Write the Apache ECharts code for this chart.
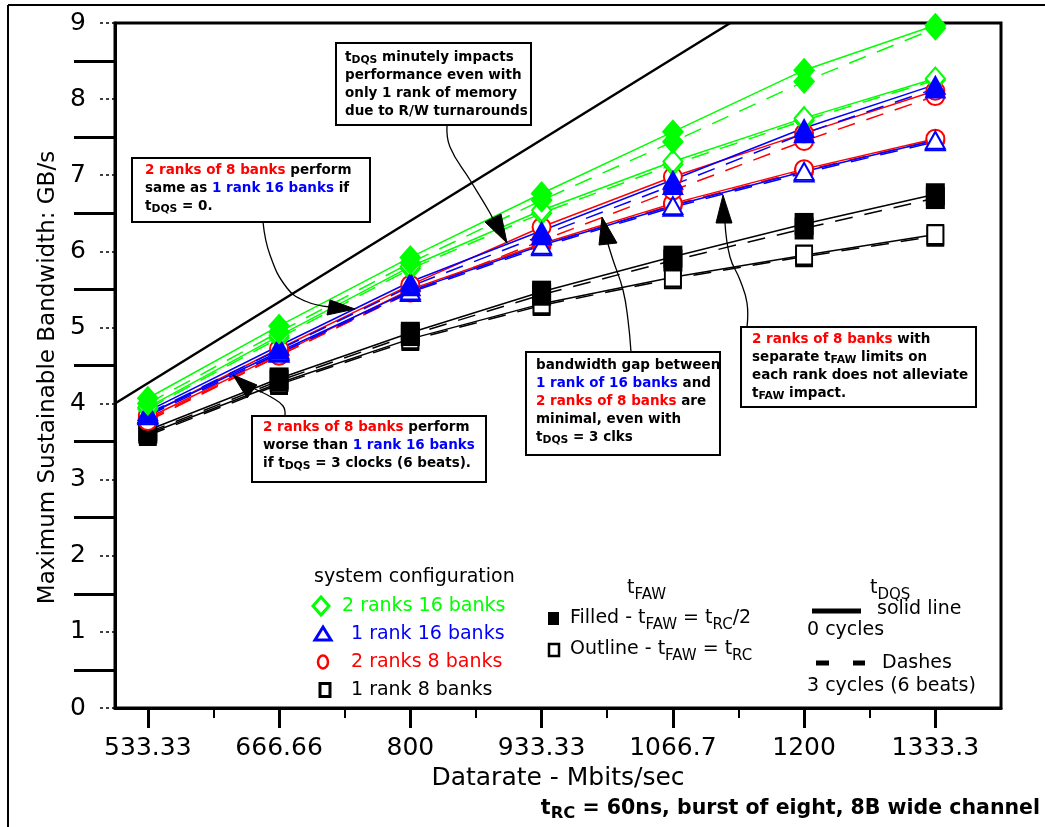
<!DOCTYPE html>
<html>
<head>
<meta charset="utf-8">
<script src="https://cdn.jsdelivr.net/npm/echarts@6/dist/echarts.min.js"></script>
<style>
  html, body { margin: 0; padding: 0; background: #fff; }
  #chart { width: 1045px; height: 827px; }
</style>
</head>
<body>
<div id="chart"></div>
<script>
// Datarate categories (Mbits/sec) and their printed tick labels
const datarates = [533.33, 666.66, 800, 933.33, 1066.7, 1200, 1333.3];
const tickLabels = ['533.33', '666.66', '800', '933.33', '1066.7', '1200', '1333.3'];
const minorTickRates = [600, 733.33, 866.67, 1000, 1133.33, 1266.67];

// Theoretical peak of an 8-byte channel: 8 B x datarate
const peakRates = [500, 1125];
const peakBandwidth = [4, 9];

// 2 ranks 16 banks (green diamonds)
const r2b16FilledSolid  = [4.07, 5.02, 5.92, 6.76, 7.57, 8.38, 8.97];
const r2b16FilledDashed = [4.00, 4.94, 5.85, 6.67, 7.44, 8.23, 8.93];
const r2b16OpenSolid    = [3.95, 4.89, 5.80, 6.54, 7.18, 7.75, 8.27];
const r2b16OpenDashed   = [3.93, 4.86, 5.77, 6.50, 7.14, 7.72, 8.25];

// 1 rank 16 banks (blue triangles)
const r1b16FilledSolid  = [3.90, 4.76, 5.60, 6.27, 6.94, 7.62, 8.19];
const r1b16FilledDashed = [3.87, 4.71, 5.54, 6.21, 6.87, 7.55, 8.14];
const r1b16OpenSolid    = [3.86, 4.68, 5.48, 6.08, 6.60, 7.05, 7.46];
const r1b16OpenDashed   = [3.84, 4.66, 5.46, 6.06, 6.58, 7.03, 7.44];

// 2 ranks 8 banks (red circles)
const r2b8FilledSolid   = [3.85, 4.72, 5.56, 6.32, 6.98, 7.55, 8.11];
const r2b8FilledDashed  = [3.77, 4.63, 5.46, 6.14, 6.80, 7.45, 8.04];
const r2b8OpenSolid     = [3.81, 4.65, 5.50, 6.10, 6.63, 7.08, 7.48];
const r2b8OpenDashed    = [3.79, 4.63, 5.48, 6.08, 6.61, 7.06, 7.46];

// 1 rank 8 banks (black squares)
const r1b8FilledSolid   = [3.65, 4.33, 4.93, 5.47, 5.93, 6.36, 6.75];
const r1b8FilledDashed  = [3.62, 4.30, 4.90, 5.43, 5.88, 6.30, 6.70];
const r1b8OpenSolid     = [3.60, 4.27, 4.85, 5.31, 5.66, 5.95, 6.22];
const r1b8OpenDashed    = [3.58, 4.25, 4.83, 5.29, 5.64, 5.93, 6.20];

const GREEN = '#00ff00', BLUE = '#0000ff', RED = '#ff0000', BLACK = '#000000';
const FONT = 'DejaVu Sans';

const filledSize = { diamond: [22, 25], triangle: [22, 20], circle: [19, 19], rect: [19, 22] };
const emptySize  = { diamond: [19, 22], triangle: [19, 17], circle: [18, 18], rect: [16, 19] };

function configSeries(name, values, color, symbol, filled, dashed) {
  return {
    type: 'line',
    name: name,
    data: datarates.map((x, i) => [x, values[i]]),
    symbol: filled ? symbol : 'empty' + symbol[0].toUpperCase() + symbol.slice(1),
    symbolSize: filled ? filledSize[symbol] : emptySize[symbol],
    showSymbol: true,
    lineStyle: { color: color, width: 1.5, type: dashed ? [18, 12] : 'solid' },
    itemStyle: { color: color, borderColor: color, borderWidth: filled ? 0 : 3 },
    emphasis: { disabled: true },
    silent: true
  };
}

const series = [
  {
    type: 'line', name: 'peak',
    data: peakRates.map((x, i) => [x, peakBandwidth[i]]),
    symbol: 'none',
    lineStyle: { color: BLACK, width: 2.5 },
    silent: true
  },
  configSeries('1 rank 8 banks, outline, dashes', r1b8OpenDashed, BLACK, 'rect', false, true),
  configSeries('1 rank 8 banks, outline, solid', r1b8OpenSolid, BLACK, 'rect', false, false),
  configSeries('1 rank 8 banks, filled, dashes', r1b8FilledDashed, BLACK, 'rect', true, true),
  configSeries('1 rank 8 banks, filled, solid', r1b8FilledSolid, BLACK, 'rect', true, false),
  configSeries('2 ranks 8 banks, outline, dashes', r2b8OpenDashed, RED, 'circle', false, true),
  configSeries('2 ranks 8 banks, outline, solid', r2b8OpenSolid, RED, 'circle', false, false),
  configSeries('2 ranks 8 banks, filled, dashes', r2b8FilledDashed, RED, 'circle', false, true),
  configSeries('2 ranks 8 banks, filled, solid', r2b8FilledSolid, RED, 'circle', false, false),
  configSeries('2 ranks 16 banks, outline, dashes', r2b16OpenDashed, GREEN, 'diamond', false, true),
  configSeries('2 ranks 16 banks, outline, solid', r2b16OpenSolid, GREEN, 'diamond', false, false),
  configSeries('1 rank 16 banks, outline, dashes', r1b16OpenDashed, BLUE, 'triangle', false, true),
  configSeries('1 rank 16 banks, outline, solid', r1b16OpenSolid, BLUE, 'triangle', false, false),
  configSeries('1 rank 16 banks, filled, dashes', r1b16FilledDashed, BLUE, 'triangle', true, true),
  configSeries('1 rank 16 banks, filled, solid', r1b16FilledSolid, BLUE, 'triangle', true, false),
  configSeries('2 ranks 16 banks, filled, dashes', r2b16FilledDashed, GREEN, 'diamond', true, true),
  configSeries('2 ranks 16 banks, filled, solid', r2b16FilledSolid, GREEN, 'diamond', true, false)
];

// ---- rich-text helpers for the call-out boxes and the key ----
function richString(lines) {
  return lines.map(l => l.map(([k, t]) => '{' + k + '|' + t + '}').join('')).join('\n');
}
function boxRich(size, lh) {
  const base = { fontFamily: FONT, fontWeight: 'bold', fontSize: size, lineHeight: lh };
  return {
    k: Object.assign({}, base, { fill: BLACK, color: BLACK }),
    r: Object.assign({}, base, { fill: RED, color: RED }),
    b: Object.assign({}, base, { fill: BLUE, color: BLUE }),
    s: { fontFamily: FONT, fontWeight: 'bold', fontSize: size * 0.8, lineHeight: lh,
         height: lh * 0.66, verticalAlign: 'bottom', fill: BLACK, color: BLACK }
  };
}
function keyRich(color) {
  return {
    n: { fontFamily: FONT, fontSize: 19, lineHeight: 24, fill: color, color: color },
    s: { fontFamily: FONT, fontSize: 15, lineHeight: 24, height: 10, verticalAlign: 'bottom', fill: color, color: color }
  };
}

const calloutRich = boxRich(13.5, 18);

function callout(rect, textPos, lines) {
  return [
    { type: 'rect', shape: { x: rect[0], y: rect[1], width: rect[2] - rect[0], height: rect[3] - rect[1] },
      style: { fill: '#fff', stroke: BLACK, lineWidth: 2 }, z: 50 },
    { type: 'text', x: textPos[0], y: textPos[1], z: 51,
      style: { text: richString(lines), rich: calloutRich, align: 'left', verticalAlign: 'top',
               fontFamily: FONT, fontWeight: 'bold', fontSize: 13.5, lineHeight: 18 } }
  ];
}
function arrow(path, head) {
  return [
    { type: 'polyline', shape: { points: path, smooth: 0.45 }, style: { stroke: BLACK, lineWidth: 1.3, fill: null }, z: 49 },
    { type: 'polygon', shape: { points: head }, style: { fill: BLACK, stroke: BLACK, lineWidth: 1 }, z: 49 }
  ];
}
function keyText(x, y, text, color, rich) {
  return { type: 'text', x: x, y: y, z: 60,
    style: { text: text, rich: rich || keyRich(color), fill: color, fontFamily: FONT, fontSize: 19,
             align: 'left', verticalAlign: 'middle' } };
}

const graphics = [].concat(
  // outer frame
  [{ type: 'line', shape: { x1: 8, y1: 5, x2: 1045, y2: 5 }, style: { stroke: BLACK, lineWidth: 2 }, z: 60 },
   { type: 'line', shape: { x1: 8, y1: 5, x2: 8, y2: 827 }, style: { stroke: BLACK, lineWidth: 2 }, z: 60 }],

  // call-out: tDQS impact with one rank
  callout([336, 43, 531, 125], [345, 48], [
    [['k', 't'], ['s', 'DQS'], ['k', ' minutely impacts']],
    [['k', 'performance even with']],
    [['k', 'only 1 rank of memory']],
    [['k', 'due to R/W turnarounds']]
  ]),
  arrow([[447, 125], [450, 147], [470, 180], [490, 213], [496, 226]],
        [[485, 222], [501, 214], [507, 243]]),

  // call-out: equal performance at tDQS = 0
  callout([132, 158, 370, 222], [145, 161], [
    [['r', '2 ranks of 8 banks'], ['k', ' perform']],
    [['k', 'same as '], ['b', '1 rank 16 banks'], ['k', ' if']],
    [['k', 't'], ['s', 'DQS'], ['k', ' = 0.']]
  ]),
  arrow([[263, 222], [270, 255], [287, 288], [305, 301], [330, 307]],
        [[330, 300], [327, 315], [355, 309]]),

  // call-out: worse performance at tDQS = 3
  callout([252, 416, 486, 482], [263, 418], [
    [['r', '2 ranks of 8 banks'], ['k', ' perform']],
    [['k', 'worse than '], ['b', '1 rank 16 banks']],
    [['k', 'if t'], ['s', 'DQS'], ['k', ' = 3 clocks (6 beats).']]
  ]),
  arrow([[285, 416], [283, 406], [271, 397], [257, 390], [248, 386]],
        [[233, 375], [257, 385], [247, 398]]),

  // call-out: small gap between the two 16-bank-equivalent setups
  callout([526, 352, 720, 455], [536, 356], [
    [['k', 'bandwidth gap between']],
    [['b', '1 rank of 16 banks'], ['k', ' and']],
    [['r', '2 ranks of 8 banks'], ['k', ' are']],
    [['k', 'minimal, even with']],
    [['k', 't'], ['s', 'DQS'], ['k', ' = 3 clks']]
  ]),
  arrow([[631, 352], [628, 320], [623, 290], [613, 260], [608, 244]],
        [[602, 217], [599, 245], [617, 243]]),

  // call-out: per-rank tFAW limits
  callout([741, 327, 976, 407], [752, 330], [
    [['r', '2 ranks of 8 banks'], ['k', ' with']],
    [['k', 'separate t'], ['s', 'FAW'], ['k', ' limits on']],
    [['k', 'each rank does not alleviate']],
    [['k', 't'], ['s', 'FAW'], ['k', ' impact.']]
  ]),
  arrow([[747, 327], [747, 303], [740, 280], [730, 257], [725, 223]],
        [[723, 195], [716, 223], [732, 223]]),

  // key: system configuration
  [keyText(314, 577, 'system configuration', BLACK),
   { type: 'polygon', shape: { points: [[321, 597], [329, 606], [321, 615], [313, 606]] },
     style: { fill: '#fff', stroke: GREEN, lineWidth: 3 }, z: 60 },
   keyText(342, 606, '2 ranks 16 banks', GREEN),
   { type: 'polygon', shape: { points: [[323, 627], [331, 640], [315, 640]] },
     style: { fill: '#fff', stroke: BLUE, lineWidth: 3 }, z: 60 },
   keyText(351, 634, '1 rank 16 banks', BLUE),
   { type: 'ellipse', shape: { cx: 323, cy: 662, rx: 5, ry: 6.5 },
     style: { fill: '#fff', stroke: RED, lineWidth: 2.5 }, z: 60 },
   keyText(351, 662, '2 ranks 8 banks', RED),
   { type: 'rect', shape: { x: 320, y: 683.5, width: 10, height: 13 },
     style: { fill: '#fff', stroke: BLACK, lineWidth: 3 }, z: 60 },
   keyText(351, 690, '1 rank 8 banks', BLACK)],

  // key: tFAW
  [keyText(627, 588, richString([[['n', 't'], ['s', 'FAW']]]), BLACK),
   { type: 'rect', shape: { x: 548, y: 612, width: 11, height: 13 }, style: { fill: BLACK }, z: 60 },
   keyText(570, 618, richString([[['n', 'Filled - t'], ['s', 'FAW'], ['n', ' = t'], ['s', 'RC'], ['n', '/2']]]), BLACK),
   { type: 'rect', shape: { x: 549, y: 644, width: 10, height: 12 },
     style: { fill: '#fff', stroke: BLACK, lineWidth: 2.5 }, z: 60 },
   keyText(570, 649, richString([[['n', 'Outline - t'], ['s', 'FAW'], ['n', ' = t'], ['s', 'RC']]]), BLACK)],

  // key: tDQS
  [keyText(870, 588, richString([[['n', 't'], ['s', 'DQS']]]), BLACK),
   { type: 'line', shape: { x1: 812, y1: 611, x2: 861, y2: 611 }, style: { stroke: BLACK, lineWidth: 5 }, z: 60 },
   keyText(877, 609, 'solid line', BLACK),
   keyText(807, 630, '0 cycles', BLACK),
   { type: 'line', shape: { x1: 816, y1: 663, x2: 829, y2: 663 }, style: { stroke: BLACK, lineWidth: 5 }, z: 60 },
   { type: 'line', shape: { x1: 853, y1: 663, x2: 865, y2: 663 }, style: { stroke: BLACK, lineWidth: 5 }, z: 60 },
   keyText(882, 663, 'Dashes', BLACK),
   keyText(807, 686, '3 cycles (6 beats)', BLACK)],

  // bottom note
  [{ type: 'text', x: 1040, y: 809, z: 60,
     style: { text: richString([[['k', 't'], ['s', 'RC'], ['k', ' = 60ns, burst of eight, 8B wide channel']]]),
              rich: boxRich(20.5, 26), align: 'right', verticalAlign: 'middle',
              fontFamily: FONT, fontWeight: 'bold', fontSize: 20.5 } }]
);

const chart = echarts.init(document.getElementById('chart'), null, { renderer: 'canvas' });
chart.setOption({
  animation: false,
  backgroundColor: '#fff',
  grid: { left: 115, top: 23, right: 44, bottom: 119, show: true, borderColor: BLACK, borderWidth: 3 },
  xAxis: [
    {
      type: 'value', min: 500, max: 1400,
      axisLine: { show: true, onZero: false, lineStyle: { color: BLACK, width: 3 } },
      axisTick: { show: true, customValues: datarates, length: 20, lineStyle: { color: BLACK, width: 3 } },
      axisLabel: {
        customValues: datarates,
        formatter: v => { const i = datarates.indexOf(v); return i >= 0 ? tickLabels[i] : ''; },
        fontFamily: FONT, fontSize: 25, color: BLACK, margin: 28
      },
      splitLine: { show: false },
      name: 'Datarate - Mbits/sec', nameLocation: 'middle', nameGap: 57,
      nameTextStyle: { fontFamily: FONT, fontSize: 25, color: BLACK }
    },
    {
      type: 'value', min: 500, max: 1400, position: 'bottom',
      axisLine: { show: false },
      axisTick: { show: true, customValues: minorTickRates, length: 10, lineStyle: { color: BLACK, width: 2 } },
      axisLabel: { show: false },
      splitLine: { show: false }
    }
  ],
  yAxis: {
    type: 'value', min: 0, max: 9, interval: 1,
    axisLine: { show: true, lineStyle: { color: BLACK, width: 3 } },
    axisTick: { show: true, length: 18, lineStyle: { color: BLACK, width: 1.5, type: [3, 3] } },
    minorTick: { show: true, splitNumber: 2, length: 41, lineStyle: { color: BLACK, width: 3 } },
    axisLabel: { fontFamily: FONT, fontSize: 25, color: BLACK, margin: 29 },
    splitLine: { show: false },
    name: 'Maximum Sustainable Bandwidth: GB/s', nameLocation: 'middle', nameGap: 48,
    nameTextStyle: { fontFamily: FONT, fontSize: 23, color: BLACK, padding: [0, 24, 0, 0] }
  },
  series: series,
  graphic: graphics
});
</script>
</body>
</html>
